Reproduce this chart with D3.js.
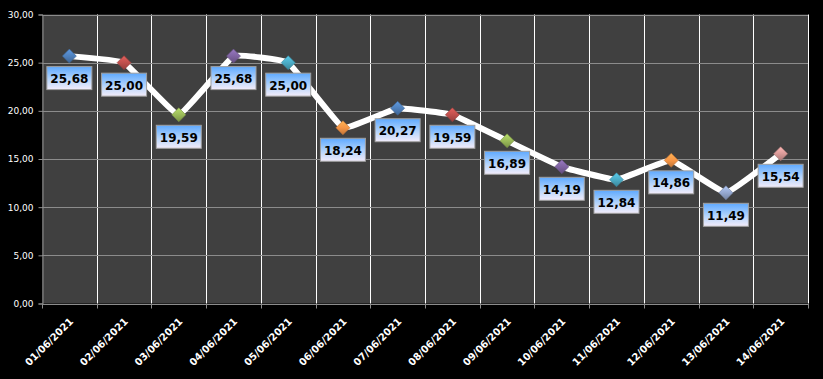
<!DOCTYPE html>
<html><head><meta charset="utf-8">
<script src="https://cdn.jsdelivr.net/npm/d3@7"></script>
<style>body{margin:0;background:#000;}svg{display:block;}</style>
</head><body>
<svg id="c" width="823" height="379"></svg>
<script>
const categories = ["01/06/2021","02/06/2021","03/06/2021","04/06/2021","05/06/2021","06/06/2021","07/06/2021","08/06/2021","09/06/2021","10/06/2021","11/06/2021","12/06/2021","13/06/2021","14/06/2021"];
const values = [25.68,25.00,19.59,25.68,25.00,18.24,20.27,19.59,16.89,14.19,12.84,14.86,11.49,15.54];
const pointColors = ["#4f81bd","#c0504d","#9bbb59","#8064a2","#4bacc6","#f79646","#4f81bd","#c0504d","#9bbb59","#8064a2","#4bacc6","#f79646","#95a8cf","#d99a98"];
const yTicks = [0,5,10,15,20,25,30];

const svg = d3.select("#c");
const W = 823, H = 379;
const m = {left:42, right:15, top:14.5, bottom:75.5};
const x = d3.scaleBand().domain(categories).range([m.left, W - m.right]);
const y = d3.scaleLinear().domain([0,30]).range([H - m.bottom, m.top]);
const fmt = v => d3.format(".2f")(v).replace(".", ",");

svg.append("rect").attr("width",W).attr("height",H).attr("fill","#000");
const defs = svg.append("defs");
const lg = defs.append("linearGradient").attr("id","lbl").attr("x1",0).attr("y1",0).attr("x2",0).attr("y2",1);
lg.append("stop").attr("offset","0%").attr("stop-color","#5ea9ff");
lg.append("stop").attr("offset","55%").attr("stop-color","#b4d4fb");
lg.append("stop").attr("offset","100%").attr("stop-color","#f3ecfa");
pointColors.forEach((c,i)=>{
  const g = defs.append("linearGradient").attr("id","mk"+i).attr("x1",0).attr("y1",0).attr("x2",0).attr("y2",1);
  g.append("stop").attr("offset","0%").attr("stop-color", d3.color(c).brighter(0.5));
  g.append("stop").attr("offset","50%").attr("stop-color", c);
  g.append("stop").attr("offset","100%").attr("stop-color", d3.color(c).darker(0.7));
});

// plot area
svg.append("rect").attr("x",m.left).attr("y",m.top)
  .attr("width",W-m.right-m.left).attr("height",H-m.bottom-m.top).attr("fill","#404040");

// vertical gridlines at category boundaries
const bounds = categories.map(c=>x(c)).concat([W-m.right]);
svg.append("g").selectAll("line").data(bounds.slice(1)).join("line")
  .attr("x1",d=>Math.round(d)+0.5).attr("x2",d=>Math.round(d)+0.5)
  .attr("y1",m.top).attr("y2",H-m.bottom)
  .attr("stroke","#ffffff").attr("stroke-width",1);

// horizontal gridlines
svg.append("g").selectAll("line").data(yTicks).join("line")
  .attr("x1",m.left).attr("x2",W-m.right)
  .attr("y1",d=>Math.round(y(d))+0.5).attr("y2",d=>Math.round(y(d))+0.5)
  .attr("stroke","#8c8c8c").attr("stroke-width",1);

// y axis
const yAxis = d3.axisLeft(y).tickValues(yTicks).tickSize(4).tickPadding(5).tickFormat(fmt);
const ya = svg.append("g").attr("transform",`translate(${m.left+0.5},0)`).call(yAxis);
ya.select(".domain").attr("stroke","#8c8c8c");
ya.selectAll(".tick line").attr("stroke","#8c8c8c");
ya.selectAll("text").attr("fill","#fff").attr("font-family","DejaVu Sans").attr("font-size",9);

// x axis line and ticks at boundaries
const xb = H - m.bottom;
svg.append("line").attr("x1",m.left).attr("x2",W-m.right).attr("y1",Math.round(xb)+0.5).attr("y2",Math.round(xb)+0.5).attr("stroke","#8c8c8c");
svg.append("g").selectAll("line").data(bounds).join("line")
  .attr("x1",d=>Math.round(d)+0.5).attr("x2",d=>Math.round(d)+0.5)
  .attr("y1",xb).attr("y2",xb+5).attr("stroke","#8c8c8c");
svg.append("g").selectAll("text").data(categories).join("text")
  .attr("transform",d=>`translate(${x(d)+x.bandwidth()/2+2},${xb+16}) rotate(-45)`)
  .attr("text-anchor","end").attr("dy","0.35em")
  .attr("fill","#fff").attr("font-family","DejaVu Sans").attr("font-weight","bold").attr("font-size",10)
  .text(d=>d);

// line
const pts = values.map((v,i)=>[x(categories[i])+x.bandwidth()/2, y(v)]);
svg.append("path").datum(pts)
  .attr("d", d3.line().curve(d3.curveCardinal.tension(0.75)))
  .attr("fill","none").attr("stroke","#fff").attr("stroke-width",6).attr("stroke-linejoin","round");

// markers
const s = 7;
svg.append("g").selectAll("path").data(pts).join("path")
  .attr("d",d=>`M${d[0]},${d[1]-s}L${d[0]+s},${d[1]}L${d[0]},${d[1]+s}L${d[0]-s},${d[1]}Z`)
  .attr("fill",(d,i)=>`url(#mk${i})`)
  .attr("stroke",(d,i)=>d3.color(pointColors[i]).darker(0.8)).attr("stroke-width",0.6);

// labels
const lab = svg.append("g").selectAll("g").data(pts).join("g")
  .attr("transform",d=>`translate(${d[0]},${d[1]+10})`);
lab.append("rect").attr("x",-22.5).attr("y",0.5).attr("width",45).attr("height",23)
  .attr("fill","url(#lbl)").attr("stroke","#a0a0a0").attr("stroke-width",1);
lab.append("text").attr("x",0).attr("y",17).attr("text-anchor","middle")
  .attr("font-family","DejaVu Sans").attr("font-weight","bold").attr("font-size",12).attr("fill","#000")
  .text((d,i)=>fmt(values[i]));
</script>
</body></html>
